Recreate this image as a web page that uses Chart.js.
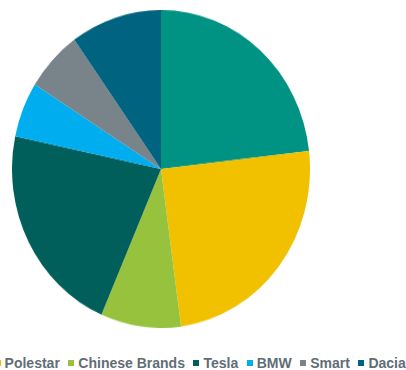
<!DOCTYPE html>
<html>
<head>
<meta charset="utf-8">
<script src="https://cdn.jsdelivr.net/npm/chart.js@4"></script>
<style>
  html, body { margin: 0; padding: 0; background: #fff; }
  body { width: 406px; height: 370px; position: relative; overflow: hidden; }
  #pieBox {
    position: absolute; left: 11.5px; top: 10.3px;
    width: 298px; height: 298px;
    transform: scaleY(1.067); transform-origin: top left;
  }
  #legend {
    position: absolute; top: 355px; left: 0;
    display: flex; white-space: nowrap;
    font-family: "Liberation Sans", Arial, sans-serif; font-weight: bold;
    font-size: 14px; color: #5f6e76; line-height: 16px;
  }
  .item { display: flex; align-items: center; margin-right: 8.5px; }
  .sq { width: 6px; height: 6px; margin-right: 4px; }
</style>
</head>
<body>
<div id="pieBox"><canvas id="pie"></canvas></div>
<div id="legend"></div>
<script>
// brands, clockwise from 12 o'clock (first one's legend entry is cut off in the picture)
const brands = ['Volvo', 'Polestar', 'Chinese Brands', 'Tesla', 'BMW', 'Smart', 'Dacia'];
const shares = [23.2, 24.7, 8.7, 21.8, 5.6, 6.2, 9.9];
const colours = ['#009384', '#f1c100', '#96c23e', '#005f5a', '#00aeef', '#79838a', '#006380'];

document.addEventListener("DOMContentLoaded", function () {
    const ctx = document.getElementById('pie').getContext('2d');

    new Chart(ctx, {
        type: 'pie',
        data: {
            labels: brands,
            datasets: [{
                data: shares,
                backgroundColor: colours,
                borderWidth: 0,
            }]
        },
        options: {
            responsive: true,
            maintainAspectRatio: false,
            animation: false,
            layout: { padding: 0 },
            plugins: {
                legend: { display: false },
                tooltip: { enabled: false },
            },
        },
    });

    // html legend, so the stretched pie does not stretch the text
    const legend = document.getElementById('legend');
    brands.forEach(function (name, i) {
        const item = document.createElement('div');
        item.className = 'item';
        const sq = document.createElement('span');
        sq.className = 'sq';
        sq.style.background = colours[i];
        item.appendChild(sq);
        item.appendChild(document.createTextNode(name));
        legend.appendChild(item);
    });
    // the reference legend is wider than the picture: Polestar's box sits at x = -5
    const second = legend.children[1];
    legend.style.left = (-5 - second.offsetLeft) + 'px';
});
</script>
</body>
</html>
